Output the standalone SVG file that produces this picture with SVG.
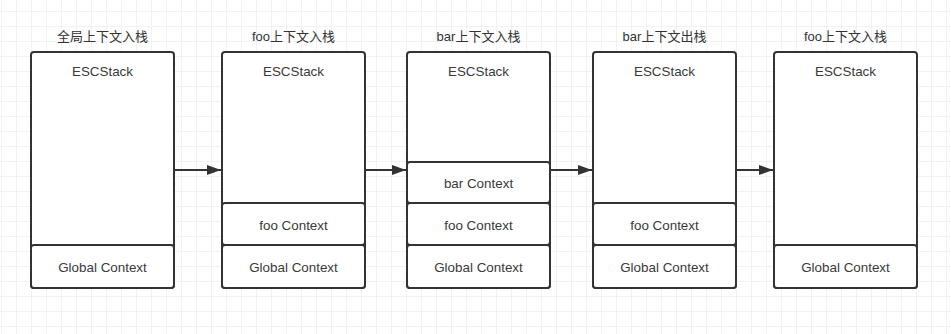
<svg xmlns="http://www.w3.org/2000/svg" width="951" height="334" viewBox="0 0 951 334">
<defs>
<pattern id="grid" x="1" y="11" width="15" height="15" patternUnits="userSpaceOnUse">
<path d="M0 0H15M0 0V15" fill="none" stroke="#e6e6e6" stroke-width="1"/>
</pattern>
<marker id="ah" viewBox="0 0 14 10" refX="14" refY="5" markerWidth="14" markerHeight="10" markerUnits="userSpaceOnUse" orient="auto">
<path d="M0 0L14 5L0 10Z" fill="#333"/>
</marker>
</defs>
<style>
.box{fill:#fff;stroke:#333;stroke-width:2}
.sec{fill:#fff;stroke:#333;stroke-width:2}
.t{font-family:"Liberation Sans","Noto Sans CJK SC",sans-serif;font-size:13px;fill:#333;text-anchor:middle}
.l{font-size:13.4px;fill:#3a3a3a}
.edge{stroke:#333;stroke-width:2;fill:none}
</style>
<rect width="951" height="334" fill="#fff"/>
<rect width="951" height="334" fill="url(#grid)"/>
<g id="connectors">
<line class="edge" x1="174" y1="170" x2="221" y2="170" marker-end="url(#ah)"/>
<line class="edge" x1="365" y1="170" x2="406" y2="170" marker-end="url(#ah)"/>
<line class="edge" x1="550" y1="170" x2="592" y2="170" marker-end="url(#ah)"/>
<line class="edge" x1="736" y1="170" x2="773" y2="170" marker-end="url(#ah)"/>
</g>
<g id="stack1">
<text class="t" x="102.5" y="41">全局上下文入栈</text>
<rect class="box" x="31" y="52" width="143" height="236" rx="3"/>
<text class="t l" x="102.5" y="76">ESCStack</text>
<rect class="sec" x="31" y="245" width="143" height="43" rx="3"/>
<text class="t l" x="102.5" y="272">Global Context</text>
</g>
<g id="stack2">
<text class="t" x="293.5" y="41">foo上下文入栈</text>
<rect class="box" x="222" y="52" width="143" height="236" rx="3"/>
<text class="t l" x="293.5" y="76">ESCStack</text>
<rect class="sec" x="222" y="203" width="143" height="42" rx="3"/>
<text class="t l" x="293.5" y="230">foo Context</text>
<rect class="sec" x="222" y="245" width="143" height="43" rx="3"/>
<text class="t l" x="293.5" y="272">Global Context</text>
</g>
<g id="stack3">
<text class="t" x="478.5" y="41">bar上下文入栈</text>
<rect class="box" x="407" y="52" width="143" height="236" rx="3"/>
<text class="t l" x="478.5" y="76">ESCStack</text>
<rect class="sec" x="407" y="162" width="143" height="41" rx="3"/>
<text class="t l" x="478.5" y="188">bar Context</text>
<rect class="sec" x="407" y="203" width="143" height="42" rx="3"/>
<text class="t l" x="478.5" y="230">foo Context</text>
<rect class="sec" x="407" y="245" width="143" height="43" rx="3"/>
<text class="t l" x="478.5" y="272">Global Context</text>
</g>
<g id="stack4">
<text class="t" x="664.5" y="41">bar上下文出栈</text>
<rect class="box" x="593" y="52" width="143" height="236" rx="3"/>
<text class="t l" x="664.5" y="76">ESCStack</text>
<rect class="sec" x="593" y="203" width="143" height="42" rx="3"/>
<text class="t l" x="664.5" y="230">foo Context</text>
<rect class="sec" x="593" y="245" width="143" height="43" rx="3"/>
<text class="t l" x="664.5" y="272">Global Context</text>
</g>
<g id="stack5">
<text class="t" x="845.5" y="41">foo上下文入栈</text>
<rect class="box" x="774" y="52" width="143" height="236" rx="3"/>
<text class="t l" x="845.5" y="76">ESCStack</text>
<rect class="sec" x="774" y="245" width="143" height="43" rx="3"/>
<text class="t l" x="845.5" y="272">Global Context</text>
</g>
</svg>
